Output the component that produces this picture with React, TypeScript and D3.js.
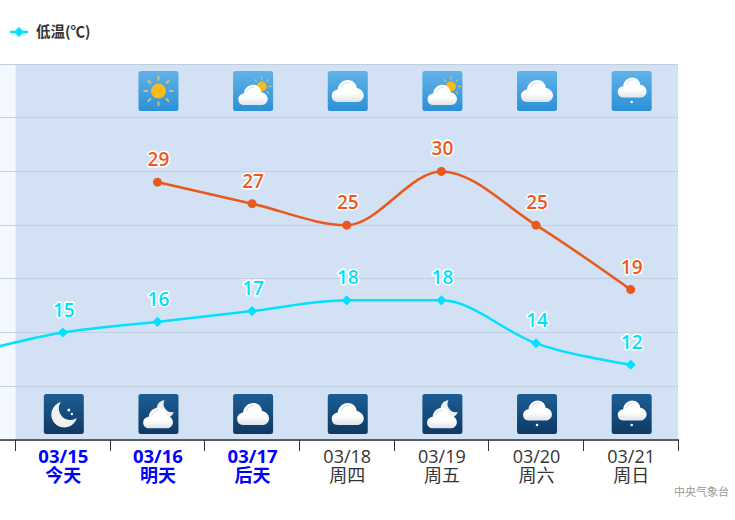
import React from 'react';
import * as d3 from 'd3';

const dates = ['03/15', '03/16', '03/17', '03/18', '03/19', '03/20', '03/21'];
const weekdays = ['今天', '明天', '后天', '周四', '周五', '周六', '周日'];
const highlighted = [true, true, true, false, false, false, false];
// first low value belongs to the day before 03/15, its point is off the left edge
const lowDays = [-1, 0, 1, 2, 3, 4, 5, 6];
const lowTemps = [13, 15, 16, 17, 18, 18, 14, 12];
const highDays = [1, 2, 3, 4, 5, 6];
const highTemps = [29, 27, 25, 30, 25, 19];
const dayIcons = ['', 'sun', 'partly', 'cloud', 'partly', 'cloud', 'shower'];
const nightIcons = ['moon', 'cloudMoon', 'cloud', 'cloud', 'cloudMoon', 'shower', 'shower'];
const gridTemps = [5, 10, 15, 20, 25, 30, 35, 40];

const width = 735;
const height = 520;
const plotTop = 64;
const plotBottom = 440;
const plotLeft = 15.5;
const plotRight = 678;

const LOW = '#00e1ff';
const HIGH = '#e9591c';
const FONT = '"Open Sans", "Noto Sans CJK SC", sans-serif';
const CJK = '"Noto Sans CJK SC", sans-serif';

const x = d3.scaleLinear().domain([-0.5, 6.5]).range([plotLeft, plotRight]);
const y = d3.scaleLinear().domain([5, 40]).range([plotBottom, plotTop]);

const seriesPath = (days: number[], temps: number[]) =>
  d3
    .line<number>()
    .x((_, i) => x(days[i]))
    .y(d => y(d))
    .curve(d3.curveMonotoneX)(temps) || '';

const diamond = d3.symbol().type(d3.symbolDiamond2).size(65)() || '';

const CLOUD =
  'M10 31 C6 31 4 28 4 25 C4 21 7 19 10 18.500 C10.500 13 15 9 20 9 C25 9 28.500 12.500 29 17 C33 17.500 36 21 36 24.500 C36 28 33 31 30 31 Z';

const Cloud = ({ transform }: { transform?: string }) => (
  <g transform={transform}>
    <path d={CLOUD} fill="url(#cloudFill)" />
    <path d="M14 17 C14.500 13.500 17 11.500 21 11.500" fill="none" stroke="#c3d0e6" strokeWidth={0.8} />
  </g>
);

const Sun = ({ cx, cy, r }: { cx: number; cy: number; r: number }) => (
  <g>
    {d3.range(8).map(i => {
      const a = (i * Math.PI) / 4;
      return (
        <line
          key={i}
          x1={cx + Math.cos(a) * r * 1.4}
          y1={cy + Math.sin(a) * r * 1.4}
          x2={cx + Math.cos(a) * r * 2}
          y2={cy + Math.sin(a) * r * 2}
          stroke="#d8c27a"
          strokeWidth={r > 5 ? 1.8 : 1.2}
        />
      );
    })}
    <circle cx={cx} cy={cy} r={r} fill="#f7bc1c" />
  </g>
);

const Icon = ({ kind, cx, top, night }: { kind: string; cx: number; top: number; night?: boolean }) => {
  if (!kind) return null;
  return (
    <g transform={`translate(${cx - 20},${top})`}>
      <rect width={40} height={40} rx={2.5} fill={night ? 'url(#nightBg)' : 'url(#dayBg)'} />
      {kind === 'sun' && <Sun cx={20} cy={20} r={7.500} />}
      {kind === 'cloud' && <Cloud />}
      {kind === 'partly' && (
        <g>
          <Sun cx={28.500} cy={15.500} r={5} />
          <Cloud transform="translate(1.500,5.500) scale(0.92)" />
        </g>
      )}
      {kind === 'shower' && (
        <g>
          <Cloud transform="translate(2.500,-1.500) scale(0.9)" />
          <circle cx={20} cy={31} r={1.300} fill="#fff" />
        </g>
      )}
      {kind === 'moon' && (
        <g>
          <path d="M17 8 A13 13 0 1 0 33 24 A11.500 11.500 0 0 1 17 8 Z" fill="#f1f1f1" />
          <circle cx={25} cy={16} r={1.500} fill="#fff" />
          <circle cx={28} cy={20} r={1.200} fill="#fff" />
        </g>
      )}
      {kind === 'cloudMoon' && (
        <g>
          <path d="M26 6 A9 9 0 1 0 35.500 18 A8.500 8.500 0 0 1 26 6 Z" fill="#eeeeee" />
          <Cloud transform="translate(1,5.500) scale(0.93)" />
        </g>
      )}
    </g>
  );
};

const DataLabels = ({ days, temps, color, dy }: { days: number[]; temps: number[]; color: string; dy: number }) => (
  <g>
    {temps.map((t, i) =>
      days[i] < 0 ? null : (
        <text
          key={i}
          x={x(days[i]) + 1}
          y={y(t) - dy}
          textAnchor="middle"
          fontFamily={FONT}
          fontSize={19}
          fontWeight={600}
          fill={color}
          stroke="#fff"
          strokeWidth={3}
          strokeLinejoin="round"
          style={{ paintOrder: 'stroke' }}
        >
          {t}
        </text>
      )
    )}
  </g>
);

export default function App() {
  return (
    <svg
      width={width}
      height={height}
      viewBox={`0 0 ${width} ${height}`}
      style={{ position: 'fixed', left: 0, top: 0, background: '#fff' }}
    >
      <defs>
        <linearGradient id="dayBg" x1="0" y1="0" x2="0" y2="1">
          <stop offset="0" stopColor="#62b2e8" />
          <stop offset="1" stopColor="#2a91d5" />
        </linearGradient>
        <linearGradient id="nightBg" x1="0" y1="0" x2="0" y2="1">
          <stop offset="0" stopColor="#1c5e96" />
          <stop offset="1" stopColor="#0f3963" />
        </linearGradient>
        <linearGradient id="cloudFill" x1="0" y1="0" x2="0" y2="1">
          <stop offset="0.6" stopColor="#ffffff" />
          <stop offset="1" stopColor="#dfe3e8" />
        </linearGradient>
        <clipPath id="plotClip">
          <rect x={0} y={plotTop} width={plotRight} height={plotBottom - plotTop} />
        </clipPath>
      </defs>

      {/* legend */}
      <line x1={10} x2={28} y1={32} y2={32} stroke={LOW} strokeWidth={2.500} />
      <path d={diamond} transform="translate(19,32)" fill={LOW} />
      <text x={36} y={37} fontFamily={CJK} fontSize={14.5} fontWeight={700} fill="#333">
        低温(℃)
      </text>

      {/* plot background */}
      <rect x={0} y={plotTop} width={plotLeft} height={plotBottom - plotTop} fill="#f3f9ff" />
      <rect x={plotLeft} y={plotTop} width={plotRight - plotLeft} height={plotBottom - plotTop} fill="#d2e2f4" />

      {gridTemps.map(t => (
        <line
          key={t}
          x1={0}
          x2={plotRight}
          y1={Math.floor(y(t)) + 0.5}
          y2={Math.floor(y(t)) + 0.5}
          stroke="#c0d0e0"
        />
      ))}

      {dayIcons.map((k, i) => (
        <Icon key={i} kind={k} cx={x(i) + 1} top={71} />
      ))}
      {nightIcons.map((k, i) => (
        <Icon key={i} kind={k} cx={x(i) + 1} top={394} night />
      ))}

      {/* series */}
      <g clipPath="url(#plotClip)">
        <path d={seriesPath(highDays, highTemps)} fill="none" stroke={HIGH} strokeWidth={2.500} />
        <path d={seriesPath(lowDays, lowTemps)} fill="none" stroke={LOW} strokeWidth={2.500} />
      </g>
      {highTemps.map((t, i) => (
        <circle key={i} cx={x(highDays[i])} cy={y(t)} r={4.500} fill={HIGH} />
      ))}
      {lowTemps.map((t, i) =>
        lowDays[i] < 0 ? null : (
          <path key={i} d={diamond} transform={`translate(${x(lowDays[i])},${y(t)})`} fill={LOW} />
        )
      )}
      <DataLabels days={highDays} temps={highTemps} color="#f0581a" dy={16} />
      <DataLabels days={lowDays} temps={lowTemps} color={LOW} dy={16} />

      {/* x axis */}
      <line x1={0} x2={plotRight + 1} y1={plotBottom} y2={plotBottom} stroke="#333" strokeWidth={1.500} />
      {d3.range(-0.5, 7, 1).map(d => (
        <line
          key={d}
          x1={Math.floor(x(d)) + 0.5}
          x2={Math.floor(x(d)) + 0.5}
          y1={plotBottom}
          y2={451}
          stroke="#333"
        />
      ))}
      {dates.map((d, i) => (
        <g
          key={d}
          textAnchor="middle"
          fill={highlighted[i] ? '#0000ff' : '#333'}
          fontWeight={highlighted[i] ? 700 : 400}
        >
          <text x={x(i) + 0.5} y={463} fontFamily={FONT} fontSize={highlighted[i] ? 18.5 : 18}>
            {d}
          </text>
          <text x={x(i) + 0.5} y={482} fontFamily={CJK} fontSize={18}>
            {weekdays[i]}
          </text>
        </g>
      ))}

      <text x={729} y={496} textAnchor="end" fontFamily={CJK} fontSize={11} fill="#999">
        中央气象台
      </text>
    </svg>
  );
}
